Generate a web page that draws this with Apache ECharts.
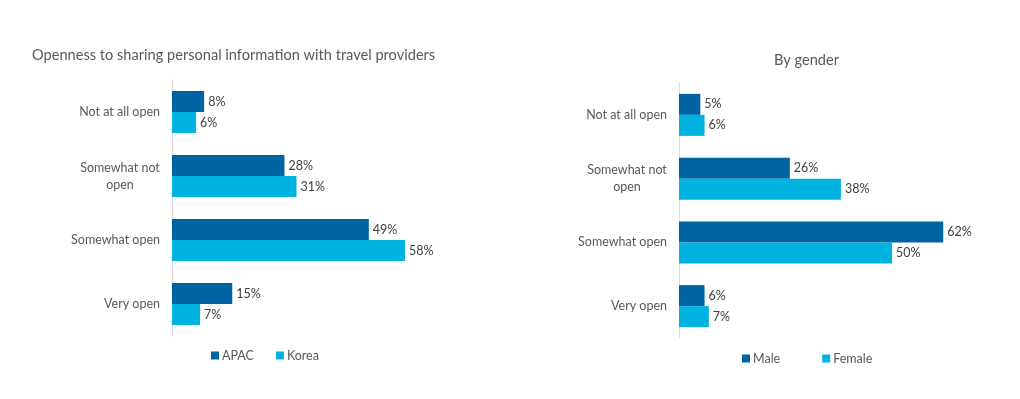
<!DOCTYPE html>
<html lang="en">
<head>
    <meta charset="UTF-8">
    <script src="https://cdn.jsdelivr.net/npm/echarts@6.0.0/dist/echarts.min.js"></script>
    <title>Openness to sharing personal information</title>
    <style>
        html, body { margin: 0; padding: 0; background: #fff; }
        #chart { width: 1020px; height: 399px; }
    </style>
</head>
<body>
    <div id="chart"></div>
    <script type="text/javascript">
        var categories = ['Not at all open', 'Somewhat not\nopen', 'Somewhat open', 'Very open'];
        var apac = [8, 28, 49, 15];
        var korea = [6, 31, 58, 7];
        var male = [5, 26, 62, 6];
        var female = [6, 38, 50, 7];

        var darkBlue = '#0064a2';
        var lightBlue = '#00b2e0';
        var font = 'Lato';

        function catAxis(idx) {
            return {
                type: 'category',
                gridIndex: idx,
                inverse: true,
                data: categories,
                axisLine: { lineStyle: { color: '#d9d9d9', width: 1 } },
                axisTick: { show: false },
                axisLabel: {
                    margin: 12,
                    color: '#595959',
                    fontFamily: font,
                    fontSize: 12.5,
                    formatter: function (v) {
                        return v.indexOf('\n') >= 0 ? '{c|' + v + '}' : v;
                    },
                    rich: {
                        c: { width: 80, align: 'center', color: '#595959', fontFamily: font, fontSize: 12.5, lineHeight: 17 }
                    }
                }
            };
        }

        function valAxis(idx, max) {
            return {
                type: 'value',
                gridIndex: idx,
                min: 0,
                max: max,
                show: false,
                splitLine: { show: false }
            };
        }

        function barSeries(name, data, color, idx) {
            return {
                name: name,
                type: 'bar',
                xAxisIndex: idx,
                yAxisIndex: idx,
                data: data,
                barWidth: 21,
                barGap: '0%',
                itemStyle: { color: color },
                label: {
                    show: true,
                    position: 'right',
                    distance: 4,
                    formatter: '{c}%',
                    color: '#404040',
                    fontFamily: font,
                    fontSize: 12.5
                }
            };
        }

        var chart = echarts.init(document.getElementById('chart'));
        var option = {
            animation: false,
            backgroundColor: '#fff',
            title: [
                {
                    text: 'Openness to sharing personal information with travel providers',
                    left: 32,
                    top: 48,
                    padding: 0,
                    textStyle: { color: '#595959', fontFamily: font, fontSize: 14.6, fontWeight: 'normal' }
                },
                {
                    text: 'By gender',
                    left: 774,
                    top: 53,
                    padding: 0,
                    textStyle: { color: '#595959', fontFamily: font, fontSize: 14.6, fontWeight: 'normal' }
                }
            ],
            legend: [
                {
                    data: ['APAC', 'Korea'],
                    left: 206,
                    top: 344,
                    icon: 'rect',
                    itemWidth: 8,
                    itemHeight: 8,
                    itemGap: 22,
                    textStyle: { color: '#595959', fontFamily: font, fontSize: 12.5, padding: [0, 0, 0, -2] }
                },
                {
                    data: ['Male', 'Female'],
                    left: 737,
                    top: 347,
                    icon: 'rect',
                    itemWidth: 8,
                    itemHeight: 8,
                    itemGap: 42,
                    textStyle: { color: '#595959', fontFamily: font, fontSize: 12.5, padding: [0, 0, 0, -2] }
                }
            ],
            grid: [
                { left: 172, top: 80, width: 241, height: 256 },
                { left: 679, top: 83, width: 277, height: 255 }
            ],
            xAxis: [valAxis(0, 60), valAxis(1, 65)],
            yAxis: [catAxis(0), catAxis(1)],
            series: [
                barSeries('APAC', apac, darkBlue, 0),
                barSeries('Korea', korea, lightBlue, 0),
                barSeries('Male', male, darkBlue, 1),
                barSeries('Female', female, lightBlue, 1)
            ]
        };
        chart.setOption(option);
    </script>
</body>
</html>
